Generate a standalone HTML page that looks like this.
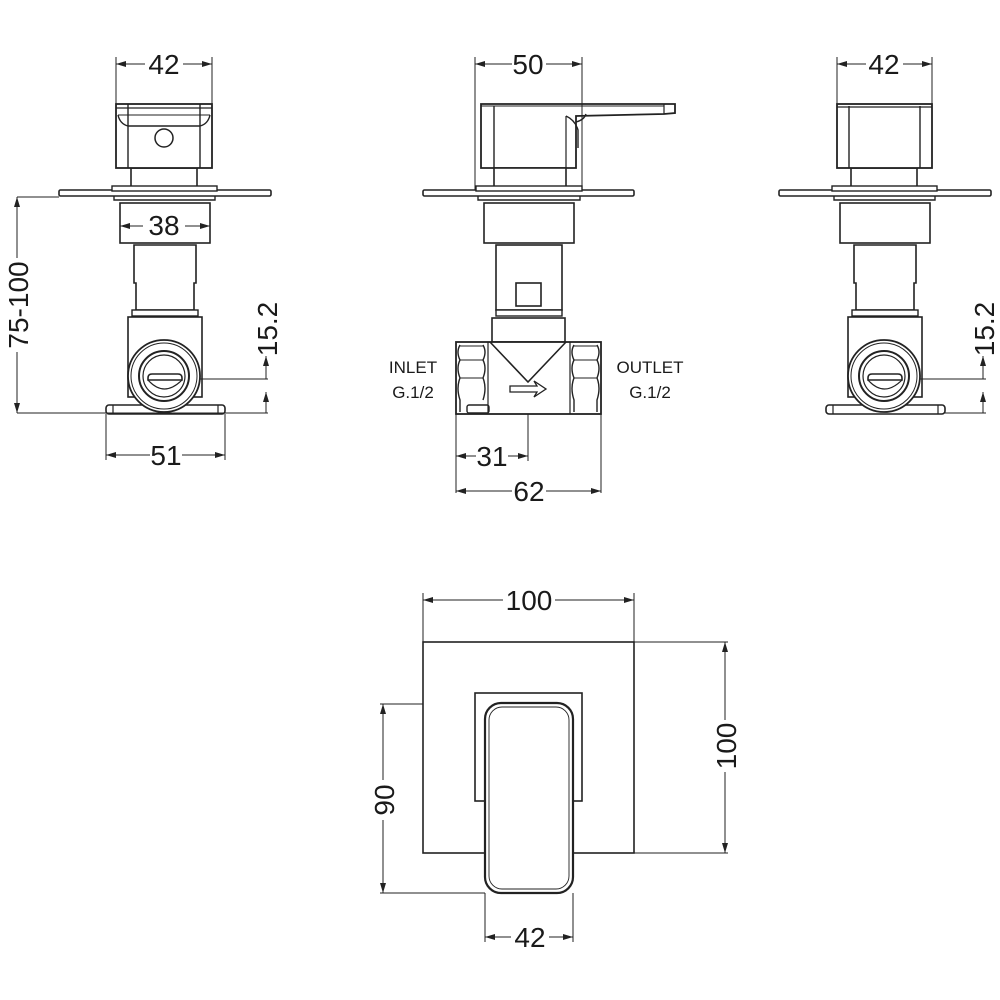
<!DOCTYPE html>
<html><head><meta charset="utf-8"><style>
html,body{margin:0;padding:0;background:#fff}
svg{display:block}
text{font-family:"Liberation Sans","DejaVu Sans",sans-serif;fill:#1a1a1a}
</style></head><body>
<svg width="1000" height="1000" viewBox="0 0 1000 1000" xmlns="http://www.w3.org/2000/svg">
<defs>
<marker id="a" viewBox="0 0 10 6" refX="10" refY="3" markerWidth="12" markerHeight="6" orient="auto-start-reverse" markerUnits="userSpaceOnUse"><path d="M0,0 L10,3 L0,6 Z" fill="#222"/></marker>
<g id="side">
  <rect x="131" y="168" width="66" height="20" fill="#fff" stroke="#222" stroke-width="1.6"/>
  <rect x="59" y="190" width="212" height="6" rx="1.5" fill="#fff" stroke="#222" stroke-width="1.6"/>
  <rect x="112" y="186" width="105" height="5" fill="#fff" stroke="#222" stroke-width="1.4"/>
  <path d="M114,196 L114,200 L215,200 L215,196" fill="none" stroke="#222" stroke-width="1.4"/>
  <rect x="120" y="203" width="90" height="40" fill="#fff" stroke="#222" stroke-width="1.6"/>
  <path d="M134,245 L196,245 L196,283 L194,283 L194,310 L136,310 L136,283 L134,283 Z" fill="#fff" stroke="#222" stroke-width="1.6"/>
  <rect x="132" y="310" width="66" height="6" fill="#fff" stroke="#222" stroke-width="1.4"/>
  <rect x="128" y="317" width="74" height="80" fill="#fff" stroke="#222" stroke-width="1.6"/>
  <rect x="106" y="405" width="119" height="9" rx="3" fill="#fff" stroke="#222" stroke-width="1.6"/>
  <line x1="113" y1="405" x2="113" y2="414" stroke="#222" stroke-width="1.2"/>
  <line x1="218" y1="405" x2="218" y2="414" stroke="#222" stroke-width="1.2"/>
  <circle cx="164" cy="376" r="36" fill="#fff" stroke="#222" stroke-width="1.8"/>
  <circle cx="164" cy="376" r="33" fill="none" stroke="#222" stroke-width="1"/>
  <circle cx="164" cy="376" r="25" fill="none" stroke="#222" stroke-width="2"/>
  <circle cx="164" cy="376" r="21" fill="none" stroke="#222" stroke-width="1.2"/>
  <path d="M148,378 Q148,374 152,374 L178,374 Q182,374 182,378 L182,380 L148,380 Z" fill="none" stroke="#222" stroke-width="1.6"/>
  <path d="M148,380 Q164,398 182,380" fill="none" stroke="#222" stroke-width="1.2"/>
</g>
</defs>

<g fill="none" stroke="#222">
<use href="#side"/>
<rect x="116" y="104" width="96" height="64" fill="#fff" stroke-width="1.8"/>
<line x1="128" y1="104" x2="128" y2="168" stroke-width="1.4"/>
<line x1="200" y1="104" x2="200" y2="168" stroke-width="1.4"/>
<line x1="116" y1="108" x2="212" y2="108" stroke-width="1.2"/>
<path d="M118,115 Q120,124 128,126 L200,126 Q208,124 210,115" stroke-width="1.4"/>
<line x1="118" y1="115" x2="210" y2="115" stroke-width="1"/>
<circle cx="164" cy="138" r="9" stroke-width="1.5"/>

<use href="#side" transform="translate(720,0)"/>
<rect x="837" y="104" width="95" height="64" fill="#fff" stroke-width="1.8"/>
<line x1="849" y1="106" x2="849" y2="168" stroke-width="1.4"/>
<line x1="920" y1="106" x2="920" y2="168" stroke-width="1.4"/>
<line x1="837" y1="107" x2="932" y2="107" stroke-width="1.2"/>

<path d="M481,104 L481,168 L576,168 L576,116 L664,114 L675,113 L675,104 Z" fill="#fff" stroke-width="1.8"/>
<line x1="494" y1="106" x2="494" y2="168" stroke-width="1.4"/>
<line x1="481" y1="106" x2="664" y2="106" stroke-width="1"/>
<line x1="664" y1="104" x2="664" y2="114" stroke-width="1.2"/>
<path d="M566,116 L566,168" stroke-width="1.2"/>
<path d="M566,116 Q575,120 578,130 L578,148" stroke-width="1.4"/>
<path d="M576,122 Q584,120 586,114" stroke-width="1.4"/>
<rect x="494" y="168" width="72" height="20" fill="#fff" stroke-width="1.6"/>
<rect x="423" y="190" width="211" height="6" rx="1.5" fill="#fff" stroke-width="1.6"/>
<rect x="476" y="186" width="106" height="5" fill="#fff" stroke-width="1.4"/>
<path d="M478,196 L478,200 L580,200 L580,196" stroke-width="1.4"/>
<rect x="484" y="203" width="90" height="40" fill="#fff" stroke-width="1.6"/>
<rect x="496" y="245" width="66" height="65" fill="#fff" stroke-width="1.6"/>
<rect x="496" y="310" width="66" height="6" fill="#fff" stroke-width="1.4"/>
<rect x="516" y="283" width="25" height="23" stroke-width="1.6"/>
<rect x="492" y="318" width="73" height="24" fill="#fff" stroke-width="1.6"/>
<rect x="456" y="342" width="145" height="72" fill="#fff" stroke-width="1.8"/>
<line x1="488" y1="342" x2="488" y2="414" stroke-width="1.2"/>
<line x1="570" y1="342" x2="570" y2="414" stroke-width="1.2"/>
<path d="M490,342 L528,382 L566,342" stroke-width="1.6"/>
<path d="M460,345 Q456,352 460,360 Q456,368 460,378 Q456,388 460,400 L460,412 M483,345 Q487,352 483,360 Q487,368 483,378 Q487,388 483,400" stroke-width="1.4"/>
<path d="M460,360 L483,360 M460,378 L483,378 M460,346 L483,346" stroke-width="1"/>
<path d="M597,345 Q601,352 597,360 Q601,368 597,378 Q601,388 597,400 L597,412 M574,345 Q570,352 574,360 Q570,368 574,378 Q570,388 574,400 L574,412" stroke-width="1.4"/>
<path d="M574,360 L597,360 M574,378 L597,378 M574,346 L597,346" stroke-width="1"/>
<rect x="467" y="405" width="22" height="8" rx="2" stroke-width="1.4"/>
<path d="M510,386 L537,386 L534,381 L546,389 L534,397 L537,392 L510,392 Z" stroke-width="1.3"/>

<rect x="423" y="642" width="211" height="211" stroke-width="1.6"/>
<rect x="475" y="693" width="107" height="108" stroke-width="1.6"/>
<rect x="485" y="703" width="88" height="190" rx="16" fill="#fff" stroke-width="2.2"/>
<rect x="489" y="707" width="80" height="182" rx="13" stroke-width="0.9"/>

<g stroke-width="1">
<line x1="116" y1="57" x2="116" y2="104"/><line x1="212" y1="57" x2="212" y2="104"/>
<line x1="116" y1="64" x2="145" y2="64" marker-start="url(#a)"/><line x1="183" y1="64" x2="212" y2="64" marker-end="url(#a)"/>
<line x1="120" y1="226" x2="143" y2="226" marker-start="url(#a)"/><line x1="185" y1="226" x2="210" y2="226" marker-end="url(#a)"/>
<line x1="17" y1="197" x2="59" y2="197"/>
<line x1="17" y1="197" x2="17" y2="258" marker-start="url(#a)"/><line x1="17" y1="352" x2="17" y2="413" marker-end="url(#a)"/>
<line x1="17" y1="413" x2="268" y2="413"/>
<line x1="200" y1="379" x2="268" y2="379"/>
<line x1="266" y1="356" x2="266" y2="379" marker-start="url(#a)"/>
<line x1="266" y1="392" x2="266" y2="413" marker-start="url(#a)"/>
<line x1="106" y1="414" x2="106" y2="460"/><line x1="225" y1="414" x2="225" y2="460"/>
<line x1="106" y1="455" x2="150" y2="455" marker-start="url(#a)"/><line x1="182" y1="455" x2="225" y2="455" marker-end="url(#a)"/>

<line x1="475" y1="57" x2="475" y2="190"/><line x1="582" y1="57" x2="582" y2="190"/>
<line x1="475" y1="64" x2="512" y2="64" marker-start="url(#a)"/><line x1="546" y1="64" x2="582" y2="64" marker-end="url(#a)"/>
<line x1="456" y1="414" x2="456" y2="493"/><line x1="601" y1="414" x2="601" y2="493"/>
<line x1="528" y1="414" x2="528" y2="461"/>
<line x1="456" y1="456" x2="476" y2="456" marker-start="url(#a)"/><line x1="508" y1="456" x2="528" y2="456" marker-end="url(#a)"/>
<line x1="456" y1="491" x2="512" y2="491" marker-start="url(#a)"/><line x1="546" y1="491" x2="601" y2="491" marker-end="url(#a)"/>

<line x1="837" y1="57" x2="837" y2="104"/><line x1="932" y1="57" x2="932" y2="104"/>
<line x1="837" y1="64" x2="866" y2="64" marker-start="url(#a)"/><line x1="903" y1="64" x2="932" y2="64" marker-end="url(#a)"/>
<line x1="920" y1="379" x2="986" y2="379"/><line x1="945" y1="413" x2="986" y2="413"/>
<line x1="983" y1="356" x2="983" y2="379" marker-start="url(#a)"/>
<line x1="983" y1="392" x2="983" y2="413" marker-start="url(#a)"/>

<line x1="423" y1="593" x2="423" y2="642"/><line x1="634" y1="593" x2="634" y2="642"/>
<line x1="423" y1="600" x2="503" y2="600" marker-start="url(#a)"/><line x1="555" y1="600" x2="634" y2="600" marker-end="url(#a)"/>
<line x1="634" y1="642" x2="728" y2="642"/><line x1="634" y1="853" x2="728" y2="853"/>
<line x1="725" y1="642" x2="725" y2="720" marker-start="url(#a)"/><line x1="725" y1="772" x2="725" y2="853" marker-end="url(#a)"/>
<line x1="380" y1="704" x2="423" y2="704"/><line x1="380" y1="893" x2="485" y2="893"/>
<line x1="383" y1="704" x2="383" y2="780" marker-start="url(#a)"/><line x1="383" y1="820" x2="383" y2="893" marker-end="url(#a)"/>
<line x1="485" y1="893" x2="485" y2="942"/><line x1="573" y1="893" x2="573" y2="942"/>
<line x1="485" y1="937" x2="511" y2="937" marker-start="url(#a)"/><line x1="549" y1="937" x2="573" y2="937" marker-end="url(#a)"/>
</g>
</g>

<g font-size="28" text-anchor="middle">
<text x="164" y="74">42</text>
<text x="164" y="235">38</text>
<text x="166" y="465">51</text>
<text x="528" y="74">50</text>
<text x="492" y="466">31</text>
<text x="529" y="501">62</text>
<text x="884" y="74">42</text>
<text x="529" y="610">100</text>
<text x="530" y="947">42</text>
<text transform="translate(28,305) rotate(-90)">75-100</text>
<text transform="translate(277,329) rotate(-90)">15.2</text>
<text transform="translate(994,329) rotate(-90)">15.2</text>
<text transform="translate(736,746) rotate(-90)">100</text>
<text transform="translate(394,800) rotate(-90)">90</text>
</g>
<g font-size="17" text-anchor="middle">
<text x="413" y="373">INLET</text>
<text x="413" y="398">G.1/2</text>
<text x="650" y="373">OUTLET</text>
<text x="650" y="398">G.1/2</text>
</g>
</svg>
</body></html>
